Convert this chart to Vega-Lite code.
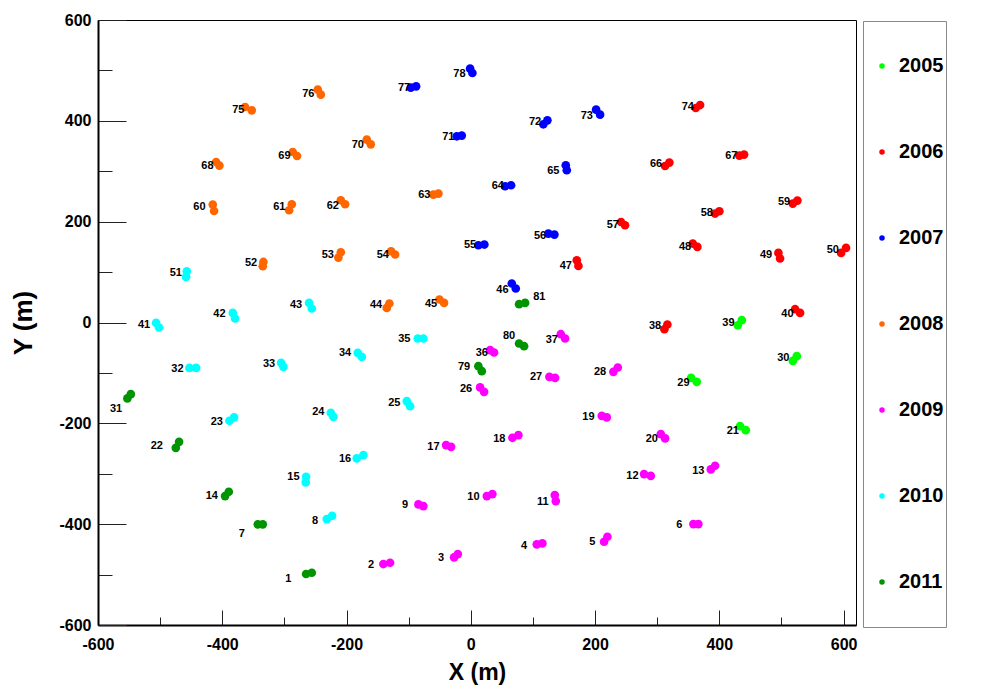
{
  "$schema": "https://vega.github.io/schema/vega-lite/v6.json",
  "width": 758,
  "height": 605,
  "autosize": {"type": "none"},
  "padding": {"left": 98, "top": 20, "right": 152, "bottom": 67},
  "background": "white",
  "config": {
    "view": {"stroke": "#000000", "strokeWidth": 1},
    "font": "Liberation Sans",
    "axis": {
      "labelFont": "Liberation Sans",
      "labelFontWeight": "bold",
      "labelFontSize": 16,
      "labelColor": "#000000",
      "titleFont": "Liberation Sans",
      "titleFontWeight": "bold",
      "titleColor": "#000000",
      "domainColor": "#000000",
      "domainWidth": 2,
      "tickColor": "#222222",
      "tickWidth": 1,
      "grid": false,
      "labelOverlap": false,
      "labelFlush": false
    }
  },
  "datasets": {
    "tanks": [
      {"station": "1", "year": "2011", "x": -265.1, "y": -498.9}, {"station": "1", "year": "2011", "x": -255.9, "y": -496.3},
      {"station": "2", "year": "2009", "x": -140.7, "y": -479.1}, {"station": "2", "year": "2009", "x": -129.9, "y": -476.5},
      {"station": "3", "year": "2009", "x": -26.9, "y": -465.8}, {"station": "3", "year": "2009", "x": -20.9, "y": -459.3},
      {"station": "4", "year": "2009", "x": 106.2, "y": -440.0}, {"station": "4", "year": "2009", "x": 115.2, "y": -438.1},
      {"station": "5", "year": "2009", "x": 214.5, "y": -434.9}, {"station": "5", "year": "2009", "x": 219.9, "y": -425.0},
      {"station": "6", "year": "2009", "x": 358.3, "y": -399.8}, {"station": "6", "year": "2009", "x": 366.3, "y": -399.8},
      {"station": "7", "year": "2011", "x": -342.8, "y": -400.4}, {"station": "7", "year": "2011", "x": -334.8, "y": -400.4},
      {"station": "8", "year": "2010", "x": -231.8, "y": -389.9}, {"station": "8", "year": "2010", "x": -223.2, "y": -383.4},
      {"station": "9", "year": "2009", "x": -84.3, "y": -360.8}, {"station": "9", "year": "2009", "x": -76.3, "y": -364.1},
      {"station": "10", "year": "2009", "x": 25.8, "y": -344.3}, {"station": "10", "year": "2009", "x": 34.8, "y": -340.3},
      {"station": "11", "year": "2009", "x": 135.2, "y": -342.3}, {"station": "11", "year": "2009", "x": 136.8, "y": -354.2},
      {"station": "12", "year": "2009", "x": 278.9, "y": -300.7}, {"station": "12", "year": "2009", "x": 289.7, "y": -304.1},
      {"station": "13", "year": "2009", "x": 386.3, "y": -291.4}, {"station": "13", "year": "2009", "x": 393.2, "y": -284.2},
      {"station": "14", "year": "2011", "x": -395.5, "y": -344.3}, {"station": "14", "year": "2011", "x": -389.5, "y": -335.8},
      {"station": "15", "year": "2010", "x": -265.1, "y": -306.1}, {"station": "15", "year": "2010", "x": -265.6, "y": -317.2},
      {"station": "16", "year": "2010", "x": -183.5, "y": -269.6}, {"station": "16", "year": "2010", "x": -172.9, "y": -263.0},
      {"station": "17", "year": "2009", "x": -39.8, "y": -243.2}, {"station": "17", "year": "2009", "x": -31.7, "y": -246.6},
      {"station": "18", "year": "2009", "x": 67.0, "y": -228.7}, {"station": "18", "year": "2009", "x": 76.6, "y": -223.4},
      {"station": "19", "year": "2009", "x": 210.8, "y": -185.1}, {"station": "19", "year": "2009", "x": 218.9, "y": -188.3},
      {"station": "20", "year": "2009", "x": 305.8, "y": -221.4}, {"station": "20", "year": "2009", "x": 312.7, "y": -229.9},
      {"station": "21", "year": "2005", "x": 433.4, "y": -205.6}, {"station": "21", "year": "2005", "x": 442.6, "y": -213.5},
      {"station": "22", "year": "2011", "x": -474.8, "y": -248.6}, {"station": "22", "year": "2011", "x": -469.5, "y": -236.7},
      {"station": "23", "year": "2010", "x": -388.5, "y": -195.0}, {"station": "23", "year": "2010", "x": -381.0, "y": -188.3},
      {"station": "24", "year": "2010", "x": -225.3, "y": -179.2}, {"station": "24", "year": "2010", "x": -221.1, "y": -187.1},
      {"station": "25", "year": "2010", "x": -103.0, "y": -156.0}, {"station": "25", "year": "2010", "x": -97.7, "y": -165.9},
      {"station": "26", "year": "2009", "x": 15.0, "y": -128.8}, {"station": "26", "year": "2009", "x": 21.4, "y": -137.6},
      {"station": "27", "year": "2009", "x": 126.5, "y": -107.8}, {"station": "27", "year": "2009", "x": 135.7, "y": -109.8},
      {"station": "28", "year": "2009", "x": 229.5, "y": -97.9}, {"station": "28", "year": "2009", "x": 236.6, "y": -89.2},
      {"station": "29", "year": "2005", "x": 354.6, "y": -109.8}, {"station": "29", "year": "2005", "x": 363.7, "y": -117.7},
      {"station": "30", "year": "2005", "x": 518.3, "y": -76.1}, {"station": "30", "year": "2005", "x": 524.7, "y": -66.8},
      {"station": "31", "year": "2011", "x": -552.7, "y": -150.6}, {"station": "31", "year": "2011", "x": -547.2, "y": -142.1},
      {"station": "32", "year": "2010", "x": -452.9, "y": -90.0}, {"station": "32", "year": "2010", "x": -442.1, "y": -90.0},
      {"station": "33", "year": "2010", "x": -305.3, "y": -80.1}, {"station": "33", "year": "2010", "x": -301.6, "y": -88.0},
      {"station": "34", "year": "2010", "x": -181.9, "y": -60.3}, {"station": "34", "year": "2010", "x": -175.4, "y": -68.2},
      {"station": "35", "year": "2010", "x": -85.3, "y": -31.7}, {"station": "35", "year": "2010", "x": -76.3, "y": -31.7},
      {"station": "36", "year": "2009", "x": 31.1, "y": -54.9}, {"station": "36", "year": "2009", "x": 37.5, "y": -59.5},
      {"station": "37", "year": "2009", "x": 144.9, "y": -23.2}, {"station": "37", "year": "2009", "x": 151.8, "y": -31.7},
      {"station": "38", "year": "2006", "x": 311.6, "y": -13.3}, {"station": "38", "year": "2006", "x": 316.4, "y": -4.0},
      {"station": "39", "year": "2005", "x": 429.7, "y": -5.4}, {"station": "39", "year": "2005", "x": 436.2, "y": 4.6},
      {"station": "40", "year": "2006", "x": 522.0, "y": 26.4}, {"station": "40", "year": "2006", "x": 530.0, "y": 19.0},
      {"station": "41", "year": "2010", "x": -506.5, "y": -0.8}, {"station": "41", "year": "2010", "x": -501.7, "y": -9.9},
      {"station": "42", "year": "2010", "x": -383.1, "y": 19.0}, {"station": "42", "year": "2010", "x": -379.4, "y": 7.9},
      {"station": "43", "year": "2010", "x": -260.3, "y": 38.9}, {"station": "43", "year": "2010", "x": -255.9, "y": 27.8},
      {"station": "44", "year": "2008", "x": -131.0, "y": 37.7}, {"station": "44", "year": "2008", "x": -135.2, "y": 28.9},
      {"station": "45", "year": "2008", "x": -50.5, "y": 45.6}, {"station": "45", "year": "2008", "x": -43.0, "y": 38.9},
      {"station": "46", "year": "2007", "x": 66.0, "y": 77.3}, {"station": "46", "year": "2007", "x": 72.4, "y": 67.4},
      {"station": "47", "year": "2006", "x": 170.6, "y": 123.5}, {"station": "47", "year": "2006", "x": 173.2, "y": 112.2},
      {"station": "48", "year": "2006", "x": 357.3, "y": 156.6}, {"station": "48", "year": "2006", "x": 364.7, "y": 149.9},
      {"station": "49", "year": "2006", "x": 495.1, "y": 138.0}, {"station": "49", "year": "2006", "x": 497.8, "y": 126.9},
      {"station": "50", "year": "2006", "x": 596.0, "y": 138.0}, {"station": "50", "year": "2006", "x": 604.0, "y": 147.9},
      {"station": "51", "year": "2010", "x": -457.1, "y": 101.7}, {"station": "51", "year": "2010", "x": -458.2, "y": 90.4},
      {"station": "52", "year": "2008", "x": -333.8, "y": 120.1}, {"station": "52", "year": "2008", "x": -334.8, "y": 111.6},
      {"station": "53", "year": "2008", "x": -213.1, "y": 128.8}, {"station": "53", "year": "2008", "x": -209.2, "y": 139.3},
      {"station": "54", "year": "2008", "x": -128.3, "y": 141.3}, {"station": "54", "year": "2008", "x": -121.8, "y": 134.8},
      {"station": "55", "year": "2007", "x": 12.2, "y": 153.2}, {"station": "55", "year": "2007", "x": 21.9, "y": 154.6},
      {"station": "56", "year": "2007", "x": 124.9, "y": 176.4}, {"station": "56", "year": "2007", "x": 134.6, "y": 174.4},
      {"station": "57", "year": "2006", "x": 241.9, "y": 199.4}, {"station": "57", "year": "2006", "x": 248.3, "y": 192.9},
      {"station": "58", "year": "2006", "x": 393.2, "y": 216.1}, {"station": "58", "year": "2006", "x": 400.1, "y": 220.6},
      {"station": "59", "year": "2006", "x": 518.3, "y": 235.9}, {"station": "59", "year": "2006", "x": 525.7, "y": 241.8},
      {"station": "60", "year": "2008", "x": -415.3, "y": 233.9}, {"station": "60", "year": "2008", "x": -413.2, "y": 221.2},
      {"station": "61", "year": "2008", "x": -288.1, "y": 234.5}, {"station": "61", "year": "2008", "x": -292.4, "y": 222.6},
      {"station": "62", "year": "2008", "x": -209.2, "y": 242.4}, {"station": "62", "year": "2008", "x": -202.3, "y": 234.5},
      {"station": "63", "year": "2008", "x": -60.2, "y": 253.7}, {"station": "63", "year": "2008", "x": -52.1, "y": 255.7},
      {"station": "64", "year": "2007", "x": 55.2, "y": 270.2}, {"station": "64", "year": "2007", "x": 64.9, "y": 272.2},
      {"station": "65", "year": "2007", "x": 152.9, "y": 311.8}, {"station": "65", "year": "2007", "x": 154.5, "y": 301.9},
      {"station": "66", "year": "2006", "x": 312.7, "y": 310.4}, {"station": "66", "year": "2006", "x": 319.6, "y": 317.2},
      {"station": "67", "year": "2006", "x": 432.3, "y": 331.0}, {"station": "67", "year": "2006", "x": 439.9, "y": 333.0},
      {"station": "68", "year": "2008", "x": -409.9, "y": 318.3}, {"station": "68", "year": "2008", "x": -404.6, "y": 311.2},
      {"station": "69", "year": "2008", "x": -286.5, "y": 338.2}, {"station": "69", "year": "2008", "x": -279.6, "y": 330.2},
      {"station": "70", "year": "2008", "x": -167.4, "y": 362.7}, {"station": "70", "year": "2008", "x": -161.0, "y": 353.4},
      {"station": "71", "year": "2007", "x": -22.5, "y": 369.3}, {"station": "71", "year": "2007", "x": -14.5, "y": 370.7},
      {"station": "72", "year": "2007", "x": 116.8, "y": 393.1}, {"station": "72", "year": "2007", "x": 123.3, "y": 401.0},
      {"station": "73", "year": "2007", "x": 201.7, "y": 422.2}, {"station": "73", "year": "2007", "x": 208.1, "y": 412.3},
      {"station": "74", "year": "2006", "x": 362.1, "y": 425.4}, {"station": "74", "year": "2006", "x": 369.1, "y": 431.3},
      {"station": "75", "year": "2008", "x": -363.3, "y": 427.4}, {"station": "75", "year": "2008", "x": -352.5, "y": 420.8},
      {"station": "76", "year": "2008", "x": -246.3, "y": 461.9}, {"station": "76", "year": "2008", "x": -241.4, "y": 451.9},
      {"station": "77", "year": "2007", "x": -96.6, "y": 465.8}, {"station": "77", "year": "2007", "x": -88.0, "y": 468.4},
      {"station": "78", "year": "2007", "x": -1.1, "y": 503.5}, {"station": "78", "year": "2007", "x": 2.6, "y": 494.8},
      {"station": "79", "year": "2011", "x": 12.2, "y": -86.6}, {"station": "79", "year": "2011", "x": 17.7, "y": -96.5},
      {"station": "80", "year": "2011", "x": 77.7, "y": -41.6}, {"station": "80", "year": "2011", "x": 85.8, "y": -47.0},
      {"station": "81", "year": "2011", "x": 77.7, "y": 36.3}, {"station": "81", "year": "2011", "x": 87.4, "y": 38.9}
    ],
    "stationLabels": [
      {"station": "1", "x": -293.6, "y": -508.8}, {"station": "2", "x": -160.5, "y": -481.1},
      {"station": "3", "x": -47.8, "y": -467.8}, {"station": "4", "x": 85.8, "y": -442.8},
      {"station": "5", "x": 195.7, "y": -434.9}, {"station": "6", "x": 335.7, "y": -401.2},
      {"station": "7", "x": -368.6, "y": -419.6}, {"station": "8", "x": -250.6, "y": -393.3},
      {"station": "9", "x": -105.7, "y": -362.1}, {"station": "10", "x": 4.2, "y": -346.9},
      {"station": "11", "x": 115.9, "y": -355.6}, {"station": "12", "x": 260.1, "y": -304.1},
      {"station": "13", "x": 366.3, "y": -294.2}, {"station": "14", "x": -416.9, "y": -344.3},
      {"station": "15", "x": -285.5, "y": -307.2}, {"station": "16", "x": -202.3, "y": -271.6},
      {"station": "17", "x": -60.2, "y": -246.6}, {"station": "18", "x": 46.0, "y": -231.3},
      {"station": "19", "x": 189.3, "y": -187.1}, {"station": "20", "x": 291.3, "y": -231.3},
      {"station": "21", "x": 421.7, "y": -215.5}, {"station": "22", "x": -505.4, "y": -244.6},
      {"station": "23", "x": -408.8, "y": -198.2}, {"station": "24", "x": -245.3, "y": -178.4},
      {"station": "25", "x": -123.0, "y": -159.4}, {"station": "26", "x": -7.6, "y": -132.8},
      {"station": "27", "x": 105.1, "y": -109.0}, {"station": "28", "x": 208.1, "y": -97.9},
      {"station": "29", "x": 342.2, "y": -119.7}, {"station": "30", "x": 503.1, "y": -70.2},
      {"station": "31", "x": -570.9, "y": -171.9}, {"station": "32", "x": -472.2, "y": -92.0},
      {"station": "33", "x": -324.6, "y": -82.7}, {"station": "34", "x": -202.3, "y": -61.4},
      {"station": "35", "x": -106.9, "y": -32.5}, {"station": "36", "x": 17.7, "y": -61.4},
      {"station": "37", "x": 130.4, "y": -35.1}, {"station": "38", "x": 296.6, "y": -6.7},
      {"station": "39", "x": 414.6, "y": -0.8}, {"station": "40", "x": 509.6, "y": 17.8},
      {"station": "41", "x": -525.8, "y": -4.0}, {"station": "42", "x": -404.6, "y": 15.9},
      {"station": "43", "x": -281.2, "y": 34.9}, {"station": "44", "x": -152.4, "y": 34.3},
      {"station": "45", "x": -63.9, "y": 36.3}, {"station": "46", "x": 50.9, "y": 64.0},
      {"station": "47", "x": 152.9, "y": 111.6}, {"station": "48", "x": 344.9, "y": 149.9},
      {"station": "49", "x": 475.3, "y": 133.4}, {"station": "50", "x": 582.6, "y": 144.7},
      {"station": "51", "x": -474.8, "y": 98.3}, {"station": "52", "x": -353.6, "y": 118.1},
      {"station": "53", "x": -230.2, "y": 134.8}, {"station": "54", "x": -141.6, "y": 133.4},
      {"station": "55", "x": -1.1, "y": 154.6}, {"station": "56", "x": 111.5, "y": 171.7},
      {"station": "57", "x": 228.5, "y": 192.9}, {"station": "58", "x": 379.8, "y": 218.0},
      {"station": "59", "x": 504.3, "y": 239.1}, {"station": "60", "x": -436.8, "y": 229.1},
      {"station": "61", "x": -308.1, "y": 229.1}, {"station": "62", "x": -222.1, "y": 231.1},
      {"station": "63", "x": -74.7, "y": 253.7}, {"station": "64", "x": 43.5, "y": 270.8},
      {"station": "65", "x": 132.9, "y": 299.9}, {"station": "66", "x": 298.2, "y": 313.8},
      {"station": "67", "x": 419.4, "y": 331.0}, {"station": "68", "x": -423.9, "y": 310.4},
      {"station": "69", "x": -300.0, "y": 330.2}, {"station": "70", "x": -181.9, "y": 352.8},
      {"station": "71", "x": -36.1, "y": 367.9}, {"station": "72", "x": 103.5, "y": 397.6},
      {"station": "73", "x": 186.7, "y": 410.3}, {"station": "74", "x": 349.3, "y": 427.4},
      {"station": "75", "x": -374.1, "y": 420.8}, {"station": "76", "x": -261.4, "y": 452.5},
      {"station": "77", "x": -107.4, "y": 465.8}, {"station": "78", "x": -18.3, "y": 493.6},
      {"station": "79", "x": -10.8, "y": -88.0}, {"station": "80", "x": 61.6, "y": -27.2},
      {"station": "81", "x": 110.4, "y": 49.6}
    ]
  },
  "layer": [
    {
      "data": {"name": "tanks"},
      "mark": {"type": "point", "shape": "circle", "filled": true, "opacity": 1, "size": 75},
      "encoding": {
        "x": {
          "field": "x", "type": "quantitative",
          "scale": {"domain": [-600, 620], "nice": false, "zero": false},
          "axis": {
            "title": "X (m)",
            "titleFontSize": 23,
            "titlePadding": 2,
            "values": [-600, -550, -500, -450, -400, -350, -300, -250, -200, -150, -100, -50, 0, 50, 100, 150, 200, 250, 300, 350, 400, 450, 500, 550, 600],
            "labelExpr": "datum.value % 200 === 0 ? toString(datum.value) : ''",
            "tickSize": {"condition": {"test": "datum.value % 200 === 0", "value": -15}, "value": -8},
            "labelPadding": 26
          }
        },
        "y": {
          "field": "y", "type": "quantitative",
          "scale": {"domain": [-600, 600], "nice": false, "zero": false},
          "axis": {
            "title": "Y (m)",
            "titleFontSize": 26,
            "titlePadding": 22,
            "values": [-600, -550, -500, -450, -400, -350, -300, -250, -200, -150, -100, -50, 0, 50, 100, 150, 200, 250, 300, 350, 400, 450, 500, 550, 600],
            "labelExpr": "datum.value % 200 === 0 ? toString(datum.value) : ''",
            "tickSize": {"condition": {"test": "datum.value % 200 === 0", "value": -28}, "value": -14},
            "labelPadding": 35
          }
        },
        "color": {
          "field": "year", "type": "nominal",
          "scale": {
            "domain": ["2005", "2006", "2007", "2008", "2009", "2010", "2011"],
            "range": ["#00ff00", "#ff0000", "#0000ff", "#ff6600", "#ff00ff", "#00ffff", "#009400"]
          },
          "legend": {
            "title": null,
            "orient": "none",
            "legendX": 765,
            "legendY": 1,
            "direction": "vertical",
            "strokeColor": "#888888",
            "fillColor": "#ffffff",
            "padding": 2,
            "clipHeight": 86,
            "rowPadding": 0,
            "symbolType": "circle",
            "symbolSize": 30,
            "symbolOffset": 7,
            "symbolStrokeWidth": 0,
            "labelOffset": 7,
            "labelFont": "Liberation Sans",
            "labelFontWeight": "bold",
            "labelFontSize": 20,
            "labelColor": "#000000"
          }
        }
      }
    },
    {
      "data": {"name": "stationLabels"},
      "mark": {"type": "text", "font": "Liberation Sans", "fontWeight": "bold", "fontSize": 11, "color": "#000000", "align": "center", "baseline": "middle"},
      "encoding": {
        "x": {"field": "x", "type": "quantitative"},
        "y": {"field": "y", "type": "quantitative"},
        "text": {"field": "station"}
      }
    }
  ]
}
